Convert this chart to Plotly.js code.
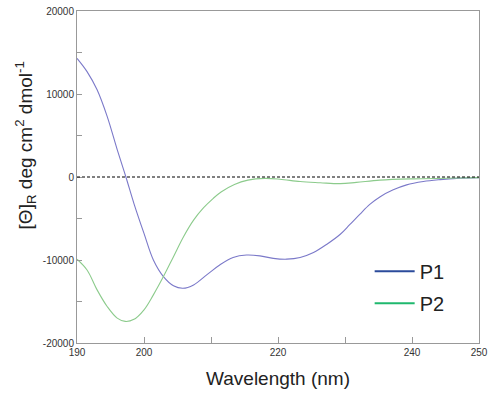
<!DOCTYPE html>
<html>
<head>
<meta charset="utf-8">
<script src="https://cdn.plot.ly/plotly-3.0.1.min.js"></script>
<style>html,body{margin:0;padding:0;background:#fff;}#chart{width:492px;height:405px;}</style>
</head>
<body>
<div id="chart"></div>
<script>
// P1 spectrum
var p1Wavelength = [190, 191.5, 193, 194.5, 196, 197.3, 198.5, 200, 201.4, 202.9, 204.4, 205.8, 207.4, 209.5, 211.3, 213.3, 215.3, 217.3, 219.3, 221.3, 223.3, 225.3, 227.3, 229.3, 230.7, 232.2, 233.7, 235.2, 237.2, 239.2, 241.7, 244.2, 246.7, 250];
var p1Values = [14300, 12700, 10500, 7300, 3300, 0, -3200, -6800, -10000, -12000, -13100, -13400, -13000, -11700, -10600, -9700, -9400, -9500, -9800, -9900, -9700, -9100, -8100, -6900, -5750, -4500, -3300, -2400, -1550, -950, -550, -320, -160, -70];
// P2 spectrum
var p2Wavelength = [190, 191.5, 193, 194.5, 196, 197.2, 198.5, 200, 201.4, 202.9, 204.4, 205.9, 207.4, 208.9, 210.3, 211.5, 213.5, 215.5, 218, 220.3, 223.3, 226.3, 229.3, 231.7, 235.2, 240.2, 245.2, 250];
var p2Values = [-9900, -11200, -13600, -15600, -17000, -17400, -17150, -16000, -14200, -12000, -9600, -7200, -5200, -3700, -2600, -1800, -900, -380, -170, -270, -550, -690, -800, -650, -380, -220, -150, -70];
// ticks
var xTickVals = [190, 200, 210, 220, 230, 240, 250];
var xTickText = ["190", "200", "", "220", "", "240", "250"];
var yTickVals = [-20000, -15000, -10000, -5000, 0, 5000, 10000, 15000, 20000];
var yTickText = ["-20000", "", "-10000", "", "0", "", "10000", "", "20000"];
var seriesNames = ["P1", "P2"];
var curveColors = ["#7b79c9", "#8ccb8c"];
var legendColors = ["#2b4b9b", "#1fb86e"];

var traces = [
  {x: p1Wavelength, y: p1Values, type: "scatter", mode: "lines", line: {color: curveColors[0], width: 1.1, shape: "spline", smoothing: 1}, showlegend: false, hoverinfo: "skip"},
  {x: p2Wavelength, y: p2Values, type: "scatter", mode: "lines", line: {color: curveColors[1], width: 1.1, shape: "spline", smoothing: 1}, showlegend: false, hoverinfo: "skip"},
  {x: [null], y: [null], type: "scatter", mode: "lines", name: seriesNames[0], line: {color: legendColors[0], width: 2}, legendgroup: "a"},
  {x: [null], y: [null], type: "scatter", mode: "lines", name: seriesNames[1], line: {color: legendColors[1], width: 2}, legendgroup: "b"}
];

var axisCommon = {
  showgrid: false, zeroline: false, showline: true, linecolor: "#999999", linewidth: 1,
  mirror: true, ticks: "inside", tickcolor: "#999999", tickwidth: 1,
  tickfont: {family: "Liberation Sans, Arial, sans-serif", size: 10, color: "#333333"}
};

var layout = {
  width: 492, height: 405,
  margin: {l: 77, r: 13, t: 11, b: 62},
  paper_bgcolor: "#ffffff", plot_bgcolor: "#ffffff",
  font: {family: "Liberation Sans, Arial, sans-serif", color: "#222222"},
  xaxis: Object.assign({}, axisCommon, {
    range: [190, 250], tickmode: "array", tickvals: xTickVals, ticktext: xTickText, ticklen: 6,
    title: {text: "Wavelength (nm)", font: {size: 19, color: "#222222"}, standoff: 14}
  }),
  yaxis: Object.assign({}, axisCommon, {
    range: [-20000, 20000], tickmode: "array", tickvals: yTickVals, ticktext: yTickText, ticklen: 5
  }),
  showlegend: true,
  legend: {
    x: 0.728, y: 0.275, xanchor: "left", yanchor: "top",
    font: {size: 20, color: "#222222"}, bgcolor: "rgba(0,0,0,0)",
    traceorder: "grouped", tracegroupgap: 3, itemwidth: 40
  },
  shapes: [
    {type: "line", xref: "x", yref: "y", x0: 190, x1: 250, y0: 0, y1: 0, line: {color: "#000000", width: 1, dash: "3px,2px"}}
  ],
  annotations: [
    {xref: "paper", yref: "paper", x: -0.127, y: 0.595, xanchor: "center", yanchor: "middle", textangle: -90, showarrow: false,
     text: "[Θ]<sub>R</sub> deg cm<sup>2</sup> dmol<sup>-1</sup>", font: {size: 19, color: "#222222"}}
  ]
};

Plotly.newPlot("chart", traces, layout, {staticPlot: true, displayModeBar: false});
</script>
</body>
</html>
